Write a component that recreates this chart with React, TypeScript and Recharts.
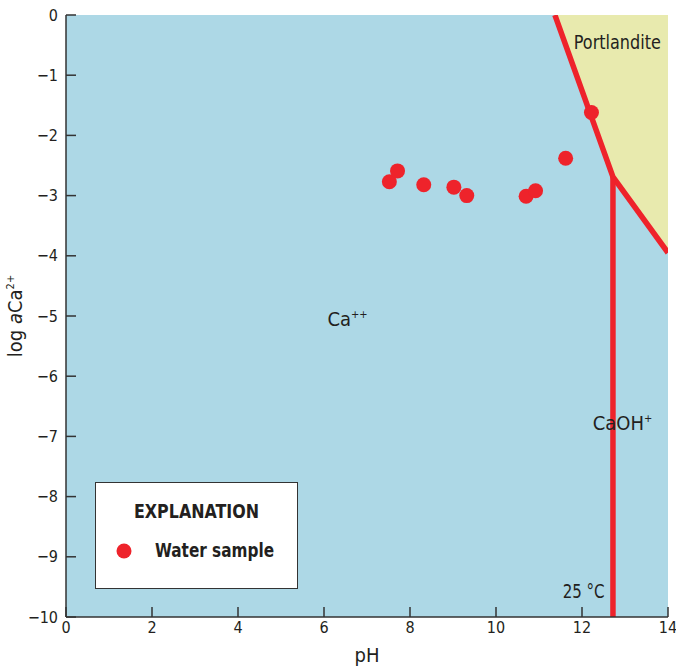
import React from 'react';
import {
  ComposedChart,
  XAxis,
  YAxis,
  CartesianGrid,
  Line,
  Area,
  Scatter,
  Legend,
  Label,
} from 'recharts';

const FONT = "'Liberation Sans Narrow', 'DejaVu Sans Condensed', 'Roboto', sans-serif";
const RED = '#EE232B';
const INK = '#231f20';

// axis ticks
const phTicks = [0, 2, 4, 6, 8, 10, 12, 14];
const logTicks = [-10, -9, -8, -7, -6, -5, -4, -3, -2, -1, 0];

// water samples
const samplePh = [7.52, 7.71, 8.32, 9.02, 9.32, 10.7, 10.92, 11.62, 12.22];
const sampleLogCa = [-2.77, -2.59, -2.82, -2.86, -3.0, -3.01, -2.92, -2.38, -1.62];

// stability field boundaries
const portlanditePh = [11.37, 12.72, 14];
const portlanditeLogCa = [0, -2.69, -3.95];
const caohPh = [12.72, 12.72];
const caohLogCa = [-2.69, -10];

// field labels
const fieldNames = ['Portlandite', 'Ca', 'CaOH', '25 °C'];
const fieldSup = ['', '++', '+', ''];
const fieldPh = [11.81, 6.08, 12.25, 11.55];
const fieldLogCa = [-0.57, -5.17, -6.89, -9.69];

// squeeze the condensed face a bit so the long labels keep the reference widths
const labelWidth: Record<string, number> = {
  Portlandite: 87,
  '25 °C': 42,
};

const samples = samplePh.map((ph, i) => ({ ph, logCa: sampleLogCa[i] }));
const portlanditeLine = portlanditePh.map((ph, i) => ({ ph, logCa: portlanditeLogCa[i] }));
const portlanditeField = portlanditePh.map((ph, i) => ({ ph, range: [portlanditeLogCa[i], 0] }));
const caohLine = caohPh.map((ph, i) => ({ ph, logCa: caohLogCa[i] }));
const fieldLabels = fieldNames.map((name, i) => ({
  ph: fieldPh[i],
  logCa: fieldLogCa[i],
  name,
  sup: fieldSup[i],
}));

const fmt = (v: number) => (v < 0 ? `\u2212${Math.abs(v)}` : `${v}`);

const Dot = (p: any) => <circle cx={p.cx} cy={p.cy} r={7.5} fill={RED} />;

const FieldText = (p: any) => {
  const w = labelWidth[p.payload.name];
  return (
    <text
      x={p.cx}
      y={p.cy}
      fontFamily={FONT}
      fontSize={20}
      fill={INK}
      textLength={w}
      lengthAdjust={w ? 'spacingAndGlyphs' : undefined}
    >
      {p.payload.name}
      {p.payload.sup ? (
        <tspan fontSize={11} dy={-8}>
          {p.payload.sup}
        </tspan>
      ) : null}
    </text>
  );
};

const LegendBox = () => (
  <svg width={203} height={107} style={{ display: 'block' }}>
    <rect x={0.5} y={0.5} width={202} height={106} fill="#fff" stroke="#333" strokeWidth={1} />
    <text
      x={39}
      y={36}
      textLength={125}
      lengthAdjust="spacingAndGlyphs"
      fontFamily={FONT}
      fontWeight="bold"
      fontSize={19}
      fill={INK}
    >
      EXPLANATION
    </text>
    <circle cx={29} cy={69} r={7.5} fill={RED} />
    <text
      x={60}
      y={75}
      textLength={119}
      lengthAdjust="spacingAndGlyphs"
      fontFamily={FONT}
      fontWeight="bold"
      fontSize={19}
      fill={INK}
    >
      Water sample
    </text>
  </svg>
);

const XTitle = (p: any) => {
  const vb = p.viewBox || { x: 66, y: 617, width: 602, height: 53 };
  return (
    <text x={vb.x + vb.width / 2} y={662} textAnchor="middle" fontFamily={FONT} fontSize={20} fill={INK}>
      pH
    </text>
  );
};

const YTitle = (p: any) => {
  const vb = p.viewBox || { x: 0, y: 15, width: 66, height: 602 };
  const cy = vb.y + vb.height / 2;
  return (
    <text
      x={22}
      y={cy}
      transform={`rotate(-90, 22, ${cy})`}
      textAnchor="middle"
      fontFamily={FONT}
      fontSize={20}
      fill={INK}
    >
      log <tspan fontStyle="italic">a</tspan>Ca
      <tspan fontSize={11} dy={-8}>
        2+
      </tspan>
    </text>
  );
};

const axisLine = { stroke: '#333', strokeWidth: 1.5 };
const tickLine = { stroke: '#333', strokeWidth: 1.5 };
const tickStyle = { fill: INK, fontSize: 16, fontFamily: FONT };

export default function App() {
  return (
    <div style={{ position: 'absolute', left: 0, top: 0 }}>
      <ComposedChart width={676} height={670} margin={{ top: 15, right: 8, bottom: 0, left: 0 }}>
        <CartesianGrid fill="#ADD8E6" stroke="none" horizontal={false} vertical={false} xAxisId="b" yAxisId="l" />
        <XAxis
          xAxisId="b"
          type="number"
          dataKey="ph"
          domain={[0, 14]}
          ticks={phTicks}
          allowDataOverflow
          height={53}
          tickSize={-10}
          tickMargin={15}
          tickFormatter={fmt}
          tick={tickStyle}
          axisLine={axisLine}
          tickLine={tickLine}
        >
          <Label content={XTitle} />
        </XAxis>
        <XAxis
          xAxisId="t"
          orientation="top"
          type="number"
          dataKey="ph"
          domain={[0, 14]}
          ticks={phTicks}
          allowDataOverflow
          height={0}
          tickSize={-10}
          tick={false}
          axisLine={axisLine}
          tickLine={tickLine}
        />
        <YAxis
          yAxisId="l"
          type="number"
          domain={[-10, 0]}
          ticks={logTicks}
          allowDataOverflow
          width={66}
          tickSize={-10}
          tickMargin={18}
          tickFormatter={fmt}
          tick={tickStyle}
          axisLine={axisLine}
          tickLine={tickLine}
        >
          <Label content={YTitle} />
        </YAxis>
        <YAxis
          yAxisId="r"
          orientation="right"
          type="number"
          domain={[-10, 0]}
          ticks={logTicks}
          allowDataOverflow
          width={0}
          tickSize={-10}
          tick={false}
          axisLine={axisLine}
          tickLine={tickLine}
        />
        <Area
          xAxisId="b"
          yAxisId="l"
          data={portlanditeField}
          dataKey="range"
          type="linear"
          fill="#E8EAAE"
          fillOpacity={1}
          stroke="none"
          isAnimationActive={false}
        />
        <Line
          xAxisId="b"
          yAxisId="l"
          data={portlanditeLine}
          dataKey="logCa"
          type="linear"
          stroke={RED}
          strokeWidth={5.5}
          dot={false}
          activeDot={false}
          isAnimationActive={false}
        />
        <Line
          xAxisId="b"
          yAxisId="l"
          data={caohLine}
          dataKey="logCa"
          type="linear"
          stroke={RED}
          strokeWidth={5.5}
          dot={false}
          activeDot={false}
          isAnimationActive={false}
        />
        <Scatter
          xAxisId="b"
          yAxisId="l"
          data={fieldLabels}
          dataKey="logCa"
          shape={FieldText}
          isAnimationActive={false}
        />
        <Scatter
          xAxisId="b"
          yAxisId="l"
          name="Water sample"
          data={samples}
          dataKey="logCa"
          shape={Dot}
          isAnimationActive={false}
        />
        <Legend
          layout="vertical"
          align="center"
          verticalAlign="middle"
          wrapperStyle={{ left: 95, top: 482, width: 203, height: 107 }}
          content={LegendBox}
        />
      </ComposedChart>
    </div>
  );
}
